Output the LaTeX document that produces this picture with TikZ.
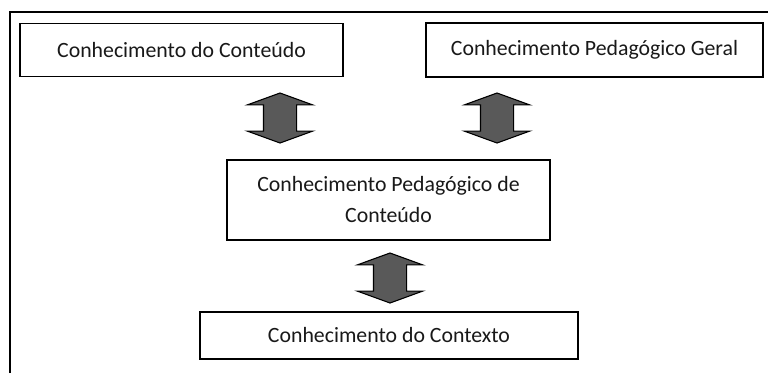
\documentclass[tikz,border=0pt]{standalone}
\usepackage{fontspec}
\setmainfont{Carlito}
\usetikzlibrary{shapes.arrows}
\begin{document}
\begin{tikzpicture}[x=1pt,y=-1pt,
  box/.style={draw=black,line width=1.2pt,fill=white,inner sep=0pt,align=center,
    font=\fontsize{21.8}{31}\selectfont,text=black!90},
  dbl/.style={shape=double arrow,rotate=90,draw=black,line width=1.1pt,fill=black!65,
    minimum height=50pt,inner xsep=0pt,inner ysep=16pt,
    double arrow head extend=16pt,double arrow tip angle=140}]
\useasboundingbox (0,0) rectangle (768,373);
\draw[line width=2pt] (10,373) -- (10,12) -- (768,12);
\node[box,minimum width=323pt,minimum height=53pt] (cc) at (181.5,50) {Conhecimento do Conteúdo};
\node[box,minimum width=337pt,minimum height=54pt] (pg) at (594.5,50) {Conhecimento Pedagógico Geral};
\node[box,minimum width=323pt,minimum height=80pt] (pc) at (388.5,200) {Conhecimento Pedagógico de\\Conteúdo};
\node[box,minimum width=378pt,minimum height=47pt] (ct) at (389,335.5) {Conhecimento do Contexto};
\node[dbl] (a1) at (280,118) {};
\node[dbl] (a2) at (497,118) {};
\node[dbl] (a3) at (390,278) {};
\end{tikzpicture}
\end{document}
